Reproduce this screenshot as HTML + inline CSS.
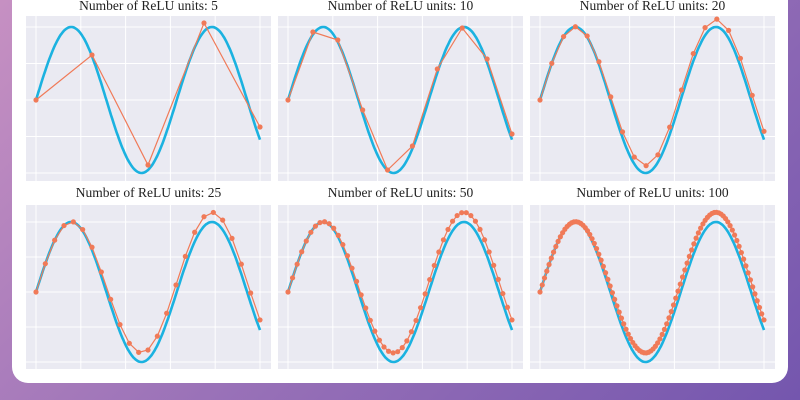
<!DOCTYPE html>
<html><head><meta charset="utf-8"><style>
html,body{margin:0;padding:0;width:800px;height:400px;overflow:hidden}
body{background:linear-gradient(135deg,#c690c2 0%,#9a72b8 50%,#7456ae 100%)}
#card{position:absolute;left:12px;top:-20px;width:776px;height:403px;background:#fff;border-radius:16px}
svg{position:absolute;left:0;top:0}
</style></head><body>
<div id="card"></div>
<svg id="s" width="800" height="400" xmlns="http://www.w3.org/2000/svg"></svg>
<script>
const s=document.getElementById('s');
const NS='http://www.w3.org/2000/svg';
function el(t,a,txt){const e=document.createElementNS(NS,t);for(const k in a)e.setAttribute(k,a[k]);if(txt)e.textContent=txt;s.appendChild(e);return e;}
const cols=[26,278,530],W=245;
const rows=[{top:16,bot:181,c:100,a:73,ty:10},{top:205,bot:369,c:292,a:70,ty:197}];
const Ns=[5,10,20,25,50,100];
const p5=[[0,100],[2.5,55],[5,165],[7.5,23],[10,127]];
const p10=[100,32,40,110,170,146,69,28,59,134];
function off(x,A){let t=Math.min(1,Math.max(0,(x-1.2)/3.5));t=t*t*(3-2*t);return A*t+0.003*Math.max(0,x-5);}
for(let i=0;i<6;i++){
 const r=rows[Math.floor(i/3)],L=cols[i%3];
 el('rect',{x:L,y:r.top,width:W,height:r.bot-r.top,fill:'#eaeaf2'});
 const X=v=>L+10+v*22.4,Y=v=>r.c-v*r.a;
 for(let g=0;g<=10;g+=2)el('line',{x1:X(g),x2:X(g),y1:r.top,y2:r.bot,stroke:'#fff','stroke-width':1});
 for(let g=-1;g<=1;g+=0.5)el('line',{x1:L,x2:L+W,y1:Y(g),y2:Y(g),stroke:'#fff','stroke-width':1});
 el('text',{x:L+W/2,y:r.ty,'text-anchor':'middle','font-family':'Liberation Serif, serif','font-size':'13.5',fill:'#222'},'Number of ReLU units: '+Ns[i]);
 let d='';for(let k=0;k<=200;k++){const x=k/20;d+=(k?'L':'M')+X(x).toFixed(1)+','+Y(Math.sin(x)).toFixed(1);}
 el('path',{d:d,fill:'none',stroke:'#1bb2e0','stroke-width':2.6});
 let pts=[];const N=Ns[i];const A=i<3?0.1:0.13;
 if(N==5)pts=p5.map(p=>[X(p[0]),p[1]]);
 else if(N==10)pts=p10.map((y,k)=>[X(k*10/9),y]);
 else for(let k=0;k<N;k++){const x=k*10/(N-1);pts.push([X(x),Y(Math.sin(x)+off(x,A))]);}
 el('polyline',{points:pts.map(p=>p[0].toFixed(1)+','+p[1].toFixed(1)).join(' '),fill:'none',stroke:'#f07a58','stroke-width':1.2});
 pts.forEach(p=>el('circle',{cx:p[0],cy:p[1],r:2.6,fill:'#f07a58'}));
}
</script>
</body></html>
